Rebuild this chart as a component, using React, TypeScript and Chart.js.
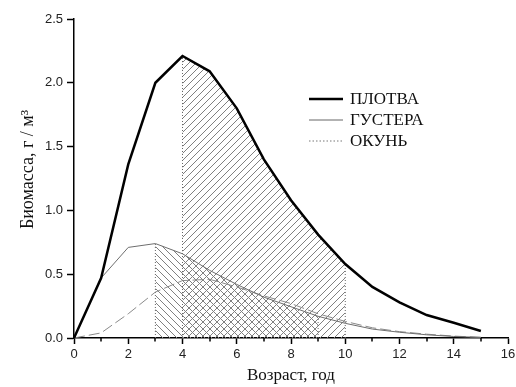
import React, { useEffect, useRef } from 'react';
import { Chart, registerables } from 'chart.js';

Chart.register(...registerables);

// ---- data ----
const ages = [0, 1, 2, 3, 4, 5, 6, 7, 8, 9, 10, 11, 12, 13, 14, 15];
const plotva = [0, 0.47, 1.36, 2.0, 2.21, 2.09, 1.8, 1.4, 1.08, 0.81, 0.58, 0.4, 0.28, 0.18, 0.12, 0.055];
const gustera = [0, 0.47, 0.71, 0.74, 0.66, 0.53, 0.42, 0.32, 0.245, 0.17, 0.115, 0.07, 0.045, 0.025, 0.012, 0.005];
const okun = [0, 0.04, 0.19, 0.36, 0.45, 0.46, 0.4, 0.33, 0.27, 0.19, 0.13, 0.08, 0.05, 0.03, 0.015, 0.005];
const seriesNames = ['ПЛОТВА', 'ГУСТЕРА', 'ОКУНЬ'];
const plotvaRange = [4, 10];
const gusteraRange = [3, 9];
const xMinorTicks = [1, 3, 5, 7, 9, 11, 13, 15];
const xTitle = 'Возраст, год';
const yTitle = '    Биомасса, г / м³';

const toPts = (vals: number[], from = -Infinity, to = Infinity) =>
  ages
    .map((a, i) => ({ x: a, y: vals[i] }))
    .filter((p) => p.x >= from && p.x <= to);

const vline = (x: number, vals: number[]) => [
  { x, y: 0 },
  { x, y: vals[ages.indexOf(x)] },
];

function makeHatch(ctx: CanvasRenderingContext2D, dir: 1 | -1, size: number, color: string) {
  const c = document.createElement('canvas');
  c.width = size;
  c.height = size;
  const g = c.getContext('2d')!;
  g.strokeStyle = color;
  g.lineWidth = 1;
  g.beginPath();
  if (dir === 1) {
    g.moveTo(-1, size + 1);
    g.lineTo(size + 1, -1);
    g.moveTo(-1, 1);
    g.lineTo(1, -1);
    g.moveTo(size - 1, size + 1);
    g.lineTo(size + 1, size - 1);
  } else {
    g.moveTo(-1, -1);
    g.lineTo(size + 1, size + 1);
    g.moveTo(size - 1, -1);
    g.lineTo(size + 1, 1);
    g.moveTo(-1, size - 1);
    g.lineTo(1, size + 1);
  }
  g.stroke();
  return ctx.createPattern(c, 'repeat')!;
}

const minorTicksPlugin = {
  id: 'minorTicks',
  afterDraw(chart: any) {
    const { ctx, chartArea, scales } = chart;
    ctx.save();
    ctx.strokeStyle = '#000';
    ctx.lineWidth = 1.5;
    ctx.beginPath();
    xMinorTicks.forEach((v) => {
      const px = Math.round(scales.x.getPixelForValue(v));
      ctx.moveTo(px, chartArea.bottom);
      ctx.lineTo(px, chartArea.bottom + 3.5);
    });
    ctx.stroke();
    ctx.restore();
  },
};

const legendPlugin = {
  id: 'customLegend',
  afterDraw(chart: any) {
    const { ctx } = chart;
    const styles = [
      { color: '#000', width: 2.5, dash: [] as number[] },
      { color: '#666', width: 1, dash: [] as number[] },
      { color: '#777', width: 1, dash: [1.5, 2] },
    ];
    const x0 = 309;
    const x1 = 343;
    const ys = [99, 120, 141];
    ctx.save();
    seriesNames.forEach((name, i) => {
      const s = styles[i];
      ctx.beginPath();
      ctx.strokeStyle = s.color;
      ctx.lineWidth = s.width;
      ctx.setLineDash(s.dash);
      ctx.moveTo(x0, ys[i]);
      ctx.lineTo(x1, ys[i]);
      ctx.stroke();
      ctx.setLineDash([]);
      ctx.fillStyle = '#111';
      ctx.font = '17px "Liberation Serif", "Times New Roman", serif';
      ctx.textBaseline = 'middle';
      ctx.textAlign = 'left';
      ctx.fillText(name, 350, ys[i] + 1);
    });
    ctx.restore();
  },
};

export default function App() {
  const ref = useRef<HTMLCanvasElement>(null);

  useEffect(() => {
    const canvas = ref.current!;
    const ctx = canvas.getContext('2d')!;
    const slash = makeHatch(ctx, 1, 7, '#808080');
    const backslash = makeHatch(ctx, -1, 7, '#808080');

    const lineBase = { pointRadius: 0, tension: 0, fill: false };
    const dotted = { ...lineBase, borderColor: '#666', borderWidth: 1, borderDash: [1, 2] };

    const chart = new Chart(ctx, {
      type: 'line',
      data: {
        datasets: [
          { ...lineBase, label: seriesNames[0], data: toPts(plotva), borderColor: '#000', borderWidth: 2.5 },
          { ...lineBase, label: seriesNames[1], data: toPts(gustera), borderColor: '#6e6e6e', borderWidth: 1 },
          { ...lineBase, label: seriesNames[2], data: toPts(okun), borderColor: '#8a8a8a', borderWidth: 1, borderDash: [11, 4] },
          { ...dotted, label: 'v1', data: vline(plotvaRange[0], plotva) },
          { ...dotted, label: 'v2', data: vline(plotvaRange[1], plotva) },
          { ...dotted, label: 'v3', data: vline(gusteraRange[0], gustera) },
          { ...dotted, label: 'v4', data: vline(gusteraRange[1], gustera) },
          {
            ...lineBase,
            label: 'h1',
            data: toPts(plotva, plotvaRange[0], plotvaRange[1]),
            borderWidth: 0,
            borderColor: 'rgba(0,0,0,0)',
            backgroundColor: slash,
            fill: 'origin',
          },
          {
            ...lineBase,
            label: 'h2',
            data: toPts(gustera, gusteraRange[0], gusteraRange[1]),
            borderWidth: 0,
            borderColor: 'rgba(0,0,0,0)',
            backgroundColor: backslash,
            fill: 'origin',
          },
        ] as any,
      },
      options: {
        animation: false,
        responsive: false,
        devicePixelRatio: 1,
        layout: { padding: { top: 19, right: 8, left: 0, bottom: 0 } },
        plugins: { legend: { display: false }, tooltip: { enabled: false } },
        scales: {
          x: {
            type: 'linear',
            min: 0,
            max: 16,
            ticks: {
              stepSize: 2,
              color: '#222',
              padding: 3,
              font: { family: '"Liberation Sans", Arial, sans-serif', size: 13 },
            },
            grid: { display: true, drawOnChartArea: false, tickLength: 6, tickColor: '#000', tickWidth: 1.5 },
            border: { display: true, color: '#000', width: 1.5 },
            title: {
              display: true,
              text: xTitle,
              color: '#111',
              padding: { top: 0, bottom: 1 },
              font: { family: '"Liberation Serif", "Times New Roman", serif', size: 17 },
            },
            afterFit: (s: any) => {
              s.height = 49;
              s.paddingLeft = 0;
              s.paddingRight = 0;
            },
          },
          y: {
            type: 'linear',
            min: 0,
            max: 2.5,
            ticks: {
              stepSize: 0.5,
              color: '#222',
              padding: 4,
              callback: (v: any) => Number(v).toFixed(1),
              font: { family: '"Liberation Sans", Arial, sans-serif', size: 13 },
            },
            grid: { display: true, drawOnChartArea: false, tickLength: 7, tickColor: '#000', tickWidth: 1.5 },
            border: { display: true, color: '#000', width: 1.5 },
            title: {
              display: true,
              text: yTitle,
              color: '#111',
              padding: { top: 17, bottom: 0 },
              font: { family: '"Liberation Serif", "Times New Roman", serif', size: 18 },
            },
            afterFit: (s: any) => {
              s.width = 74;
              s.paddingTop = 0;
              s.paddingBottom = 0;
            },
          },
        },
      } as any,
      plugins: [minorTicksPlugin, legendPlugin],
    });
    return () => chart.destroy();
  }, []);

  return (
    <div style={{ position: 'fixed', left: 0, top: 0, width: 516, height: 387, background: '#fff' }}>
      <canvas ref={ref} width={516} height={387} style={{ width: 516, height: 387, display: 'block' }} />
    </div>
  );
}
